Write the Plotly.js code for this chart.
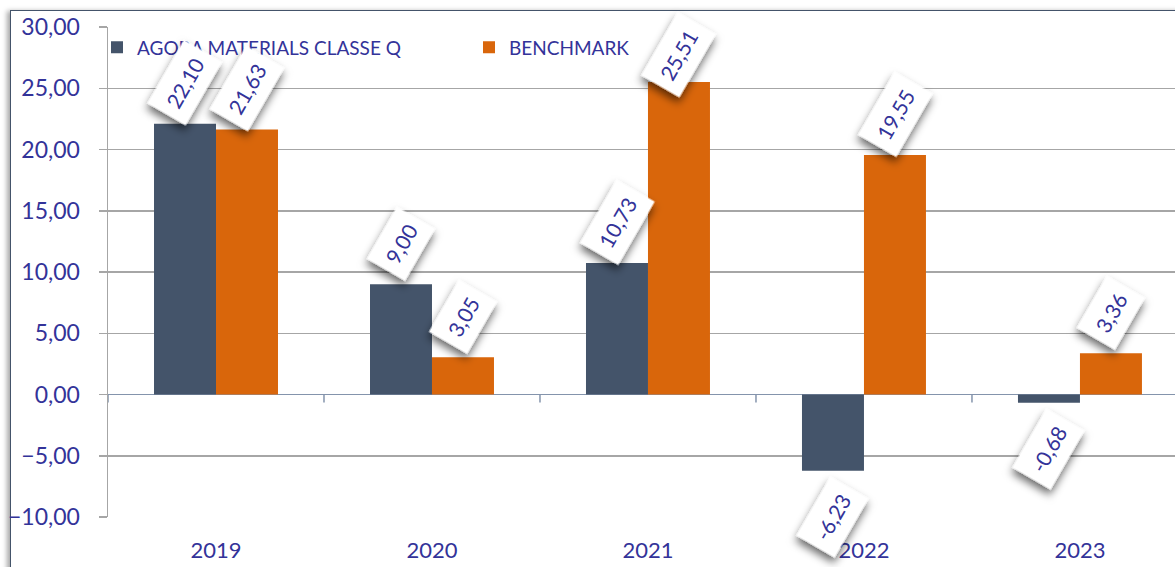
<!DOCTYPE html>
<html>
<head>
<meta charset="utf-8">
<script src="https://cdn.plot.ly/plotly-3.0.1.min.js"></script>
<style>
  html, body { margin: 0; padding: 0; background: #ffffff; overflow: hidden; }
  #frame { position: absolute; left: 10px; top: 10px; width: 1400px; height: 800px;
           border-top: 1.5px solid #44546A; border-left: 1.5px solid #44546A;
           box-shadow: -3px 1px 5px rgba(0,0,0,0.35); background: #ffffff; }
  #chart { position: absolute; left: 0; top: 0; width: 1175px; height: 567px; }
</style>
</head>
<body>
<div id="frame"></div>
<div id="chart"></div>
<script>
const years = ['2019', '2020', '2021', '2022', '2023'];
const fundValues = [22.10, 9.00, 10.73, -6.23, -0.68];
const benchmarkValues = [21.63, 3.05, 25.51, 19.55, 3.36];
const seriesNames = ['AGORA MATERIALS CLASSE Q', 'BENCHMARK'];
const yTickValues = [-10, -5, 0, 5, 10, 15, 20, 25, 30];

const textColor = '#333399';
const fontFamily = 'Lato, Carlito, "Open Sans", sans-serif';
const colors = ['#44546A', '#D9660B'];
const yMin = -10, yMax = 30;
const plotH = 567 - 27 - 50;
const pxPerUnit = plotH / (yMax - yMin);

function fmt(v) { return v.toFixed(2).replace('.', ','); }

const seriesValues = [fundValues, benchmarkValues];

const traces = seriesValues.map((vals, s) => ({
  type: 'bar',
  name: seriesNames[s],
  x: years,
  y: vals,
  marker: { color: colors[s], line: { width: 0 } },
  hoverinfo: 'none'
}));

const annotations = [];
seriesValues.forEach((vals, s) => {
  vals.forEach((v, i) => {
    const shift = v >= 0 ? Math.min(41, (yMax - v) * pxPerUnit - 28) : -46;
    annotations.push({
      x: i, y: v, xref: 'x', yref: 'y',
      xshift: s === 0 ? -31 : 31,
      yshift: shift,
      text: fmt(v),
      showarrow: false,
      textangle: -60,
      xanchor: 'center', yanchor: 'middle',
      bgcolor: '#ffffff',
      borderpad: 9,
      font: { family: fontFamily, size: 21, color: textColor }
    });
  });
});

const shapes = [];
for (let k = 0; k <= years.length; k++) {
  shapes.push({
    type: 'line', xref: 'x', yref: 'y',
    x0: k - 0.5, x1: k - 0.5, y0: 0, y1: -8 / pxPerUnit,
    line: { color: '#8494ac', width: 1.5 }
  });
}

const layout = {
  width: 1175, height: 567,
  margin: { l: 108, r: 0, t: 27, b: 50, pad: 0 },
  paper_bgcolor: 'rgba(0,0,0,0)',
  plot_bgcolor: 'rgba(0,0,0,0)',
  separators: ',.',
  barmode: 'group',
  bargap: 0.426,
  bargroupgap: 0,
  font: { family: fontFamily, color: textColor },
  showlegend: true,
  legend: {
    orientation: 'h',
    x: 0.0, xanchor: 'left',
    y: 0.997, yanchor: 'top',
    indentation: -11,
    entrywidth: 338, entrywidthmode: 'pixels',
    bgcolor: 'rgba(0,0,0,0)',
    font: { family: fontFamily, size: 19, color: textColor },
    traceorder: 'normal'
  },
  xaxis: {
    type: 'category',
    range: [-0.5, 4.44],
    showgrid: false, showline: false, zeroline: false,
    ticks: '',
    tickfont: { family: fontFamily, size: 22, color: textColor },
    ticklabelstandoff: 18,
    fixedrange: true
  },
  yaxis: {
    range: [yMin, yMax],
    tickmode: 'array',
    tickvals: yTickValues,
    tickformat: '.2f',
    showgrid: true, gridcolor: '#a6a6a6', gridwidth: 1.5,
    showline: true, linecolor: '#a6a6a6', linewidth: 1.5,
    ticks: 'outside', ticklen: 8, tickcolor: '#a6a6a6', tickwidth: 1.5,
    zeroline: true, zerolinecolor: '#8494ac', zerolinewidth: 1.5,
    tickfont: { family: fontFamily, size: 23, color: textColor },
    ticklabelstandoff: 14,
    fixedrange: true
  },
  annotations: annotations,
  shapes: shapes
};

Plotly.newPlot('chart', traces, layout, { staticPlot: true, displayModeBar: false }).then(gd => {
  const svgs = gd.querySelectorAll('svg.main-svg');
  const svg = svgs[0];
  const ns = 'http://www.w3.org/2000/svg';
  let defs = svg.querySelector('defs');
  if (!defs) { defs = document.createElementNS(ns, 'defs'); svg.insertBefore(defs, svg.firstChild); }
  const filter = document.createElementNS(ns, 'filter');
  filter.setAttribute('id', 'lblshadow');
  filter.setAttribute('x', '-50%'); filter.setAttribute('y', '-50%');
  filter.setAttribute('width', '200%'); filter.setAttribute('height', '200%');
  const ds = document.createElementNS(ns, 'feDropShadow');
  ds.setAttribute('dx', '-5'); ds.setAttribute('dy', '2');
  ds.setAttribute('stdDeviation', '4');
  ds.setAttribute('flood-color', '#000000');
  ds.setAttribute('flood-opacity', '0.6');
  filter.appendChild(ds);
  defs.appendChild(filter);
  gd.querySelectorAll('g.annotation rect.bg').forEach(r => r.setAttribute('filter', 'url(#lblshadow)'));
});
</script>
</body>
</html>
